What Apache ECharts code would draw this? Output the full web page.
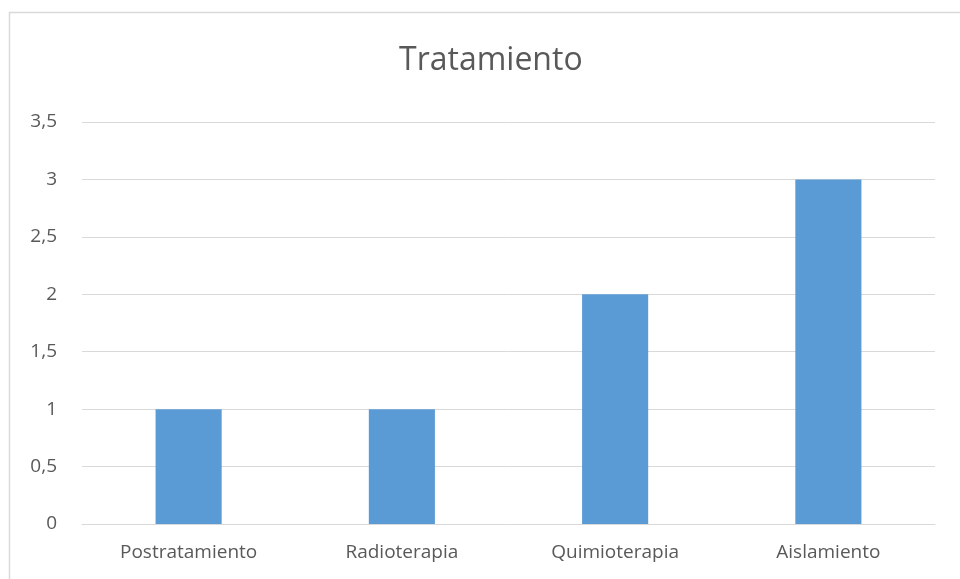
<!DOCTYPE html>
<html><head><meta charset="utf-8">
<script src="https://cdn.jsdelivr.net/npm/echarts@6/dist/echarts.min.js"></script>
<style>html,body{margin:0;padding:0;background:#fff}#c{width:960px;height:579px}</style>
</head><body><div id="c"></div>
<script>
const title = "Tratamiento";
const categories = ["Postratamiento", "Radioterapia", "Quimioterapia", "Aislamiento"];
const values = [1, 1, 2, 3];
const yMin = 0, yMax = 3.5, yStep = 0.5;

const chart = echarts.init(document.getElementById('c'), null, {renderer: 'canvas'});
const font = "'Open Sans', 'Noto Sans', sans-serif";
chart.setOption({
  animation: false,
  backgroundColor: '#fff',
  title: {
    text: title, left: 394, top: 40,
    textStyle: {fontFamily: font, fontSize: 32, fontWeight: 'normal', color: '#595959'}
  },
  graphic: [{
    type: 'rect', shape: {x: 9.5, y: 12.5, width: 1000, height: 1000},
    style: {fill: 'none', stroke: '#d9d9d9', lineWidth: 1.5}, silent: true
  }],
  grid: {left: 82, right: 25, top: 122, bottom: 55, containLabel: false},
  xAxis: {
    type: 'category', data: categories,
    axisLine: {show: true, lineStyle: {color: '#d9d9d9', width: 1}},
    axisTick: {show: false},
    axisLabel: {color: '#595959', fontFamily: font, fontSize: 19, margin: 19}
  },
  yAxis: {
    type: 'value', min: yMin, max: yMax, interval: yStep,
    axisLine: {show: false}, axisTick: {show: false},
    splitLine: {lineStyle: {color: '#d9d9d9', width: 1}},
    axisLabel: {color: '#595959', fontFamily: font, fontSize: 19, margin: 25,
      formatter: v => String(v).replace('.', ',')}
  },
  series: [{
    type: 'bar', data: values, barWidth: '31%',
    itemStyle: {color: '#5b9bd5'}
  }]
});
</script></body></html>
